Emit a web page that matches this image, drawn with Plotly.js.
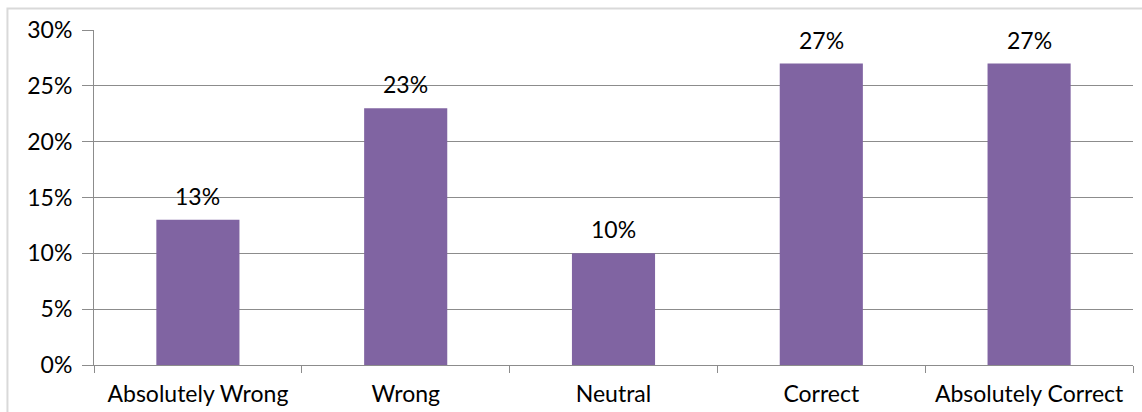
<!DOCTYPE html>
<html>
<head>
<meta charset="utf-8">
<script src="https://cdn.plot.ly/plotly-3.0.1.min.js"></script>
<style>
  html, body { margin: 0; padding: 0; background: #ffffff; }
  #chart { width: 1142px; height: 412px; }
</style>
</head>
<body>
<div id="chart"></div>
<script>
// Response categories and the share of answers for each
const categories = ["Absolutely Wrong", "Wrong", "Neutral", "Correct", "Absolutely Correct"];
const shares = [0.13, 0.23, 0.10, 0.27, 0.27];
const yTickValues = [0, 0.05, 0.10, 0.15, 0.20, 0.25, 0.30];

const fontFamily = "Lato, Carlito, 'Liberation Sans', sans-serif";
const fontSize = 23;
const gridGrey = "#8c8c8c";

const bars = {
  type: "bar",
  x: categories,
  y: shares,
  marker: { color: "#8064a2" },
  hoverinfo: "skip"
};

// Value labels sit just above each bar
const valueLabels = categories.map((c, i) => ({
  x: c,
  y: shares[i],
  xref: "x",
  yref: "y",
  text: Math.round(shares[i] * 100) + "%",
  showarrow: false,
  yanchor: "bottom",
  yshift: 8,
  font: { family: fontFamily, size: fontSize, color: "#000000" }
}));

const layout = {
  width: 1142,
  height: 412,
  margin: { l: 94, r: 9, t: 30, b: 47 },
  paper_bgcolor: "#ffffff",
  plot_bgcolor: "#ffffff",
  showlegend: false,
  bargap: 0.6,
  font: { family: fontFamily, size: fontSize, color: "#000000" },
  xaxis: {
    type: "category",
    showline: true,
    linecolor: gridGrey,
    linewidth: 1,
    ticks: "outside",
    tickson: "boundaries",
    ticklen: 7,
    tickcolor: gridGrey,
    showgrid: false,
    zeroline: false,
    ticklabelstandoff: 8,
    tickfont: { family: fontFamily, size: fontSize, color: "#000000" }
  },
  yaxis: {
    range: [0, 0.30],
    tickvals: yTickValues,
    tickformat: ".0%",
    showline: true,
    linecolor: gridGrey,
    linewidth: 1,
    ticks: "outside",
    ticklen: 11,
    tickcolor: gridGrey,
    showgrid: true,
    gridcolor: gridGrey,
    gridwidth: 1,
    zeroline: false,
    ticklabelstandoff: 5,
    tickfont: { family: fontFamily, size: fontSize, color: "#000000" }
  },
  annotations: valueLabels,
  shapes: [{
    type: "rect",
    xref: "paper",
    yref: "paper",
    x0: -0.0833, x1: 1.5,
    y0: -1, y1: 1.064,
    line: { color: "#d9d9d9", width: 2 },
    fillcolor: "rgba(0,0,0,0)",
    layer: "below"
  }]
};

Plotly.newPlot("chart", [bars], layout, { displayModeBar: false, staticPlot: true });
</script>
</body>
</html>
